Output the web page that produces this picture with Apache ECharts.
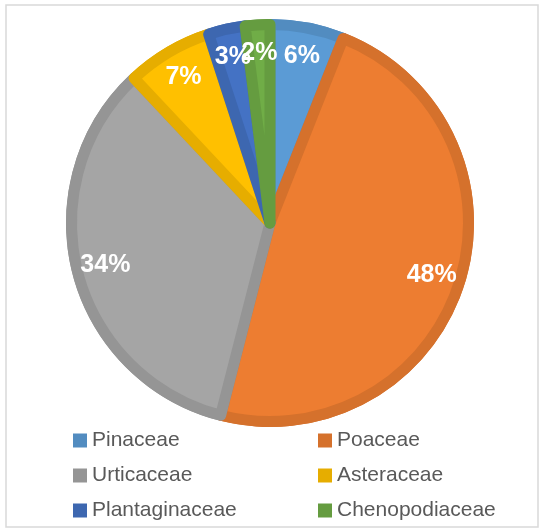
<!DOCTYPE html>
<html>
<head>
<meta charset="utf-8">
<script src="https://cdn.jsdelivr.net/npm/echarts@6/dist/echarts.min.js"></script>
<style>
html,body{margin:0;padding:0;background:#fff;}
#chart{width:541px;height:529px;}
</style>
</head>
<body>
<div id="chart"></div>
<script>
var families = ['Pinaceae', 'Poaceae', 'Urticaceae', 'Asteraceae', 'Plantaginaceae', 'Chenopodiaceae'];
var shares = [6, 48, 34, 7, 3, 2];
var fillColors = ['#5B9BD5', '#ED7D31', '#A5A5A5', '#FFC000', '#4472C4', '#70AD47'];
var edgeColors = ['#528CC0', '#D5712C', '#959595', '#E6AD00', '#3D67B0', '#659C40'];

var chart = echarts.init(document.getElementById('chart'), null, {renderer: 'canvas'});

var center = [270, 223];
var R = 204;

function items(kind) {
  return families.map(function (n, i) {
    var it = {name: n, value: shares[i]};
    if (kind === 'dark') it.itemStyle = {color: edgeColors[i]};
    if (kind === 'light') it.itemStyle = {color: fillColors[i], borderColor: edgeColors[i]};
    if (kind === 'label') it.itemStyle = {color: 'rgba(0,0,0,0)'};
    return it;
  });
}

var legendText = {color: '#595959', fontSize: 21, fontFamily: 'Liberation Sans', lineHeight: 21};

var option = {
  animation: false,
  backgroundColor: '#ffffff',
  graphic: [{
    type: 'rect', silent: true,
    shape: {x: 6, y: 5, width: 532, height: 522},
    style: {fill: 'none', stroke: '#D9D9D9', lineWidth: 1.5}
  }],
  legend: [{
    orient: 'vertical', left: 73, top: 430, padding: 0, itemWidth: 14, itemHeight: 14, itemGap: 14,
    icon: 'rect', textStyle: legendText, selectedMode: false,
    data: [families[0], families[2], families[4]]
  }, {
    orient: 'vertical', left: 318, top: 430, padding: 0, itemWidth: 14, itemHeight: 14, itemGap: 14,
    icon: 'rect', textStyle: legendText, selectedMode: false,
    data: [families[1], families[3], families[5]]
  }],
  series: [{
    type: 'pie', center: center, radius: R, startAngle: 90, clockwise: true,
    silent: true, label: {show: false}, labelLine: {show: false},
    data: items('dark')
  }, {
    type: 'pie', center: center, radius: R - 5.5, startAngle: 90, clockwise: true,
    silent: true, label: {show: false}, labelLine: {show: false},
    itemStyle: {borderWidth: 11, borderJoin: 'round'},
    data: items('light')
  }, {
    type: 'pie', center: center, radius: [0, 334], startAngle: 90, clockwise: true,
    silent: true, labelLine: {show: false}, avoidLabelOverlap: false,
    labelLayout: {hideOverlap: false},
    label: {
      show: true, position: 'inside', color: '#ffffff', fontSize: 25, fontWeight: 'bold',
      fontFamily: 'Liberation Sans',
      formatter: function (p) { return Math.round(p.percent) + '%'; }
    },
    data: items('label')
  }]
};
chart.setOption(option);
</script>
</body>
</html>
